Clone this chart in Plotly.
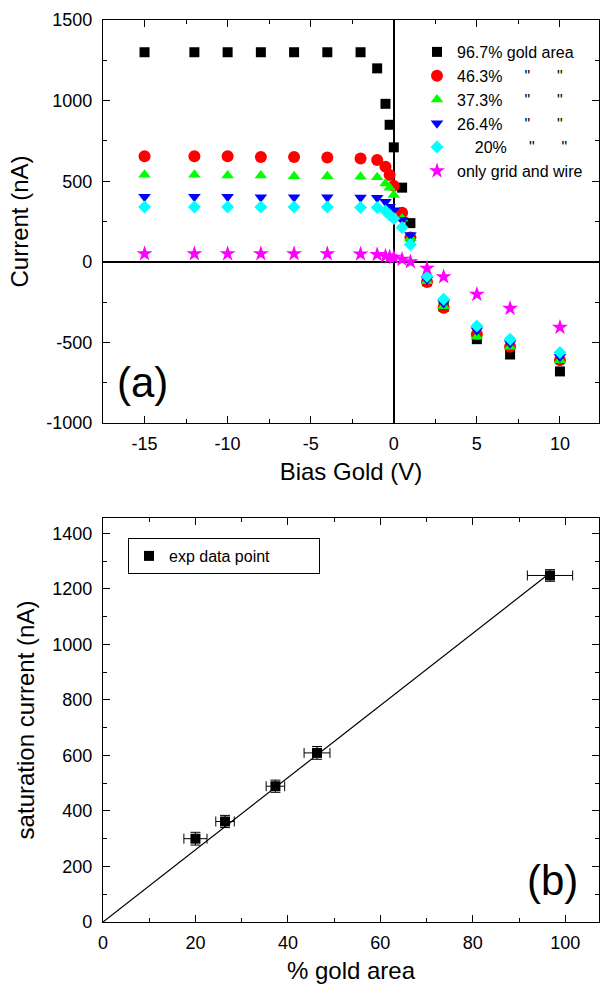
import plotly.graph_objects as go

# ---------------- data: panel (a) ----------------
bias = [-15, -12, -10, -8, -6, -4, -2, -1, -0.5, -0.25, 0, 0.5, 1, 2, 3, 5, 7, 10]
cur_967 = [1300, 1300, 1300, 1300, 1300, 1300, 1300, 1200, 980, 850, 710, 460, 240, -120, -280, -480, -575, -680]
cur_463 = [655, 655, 655, 650, 650, 647, 641, 631, 589, 538, 471, 304, 151, -125, -285, -450, -527, -610]
cur_373 = [540, 540, 535, 535, 530, 530, 527, 524, 486, 460, 414, 269, 147, -120, -275, -465, -527, -610]
cur_264 = [403, 403, 403, 401, 401, 400, 399, 397, 372, 341, 320, 259, 166, -110, -256, -424, -505, -589]
cur_20 = [340, 340, 340, 340, 340, 340, 337, 337, 315, 290, 269, 213, 108, -90, -233, -399, -480, -562]
cur_grid = [50, 50, 50, 50, 50, 50, 48, 45, 35, 30, 27, 15, 0, -40, -93, -202, -289, -407]

NB = "\u00a0"
names_a = [
    "96.7% gold area",
    "46.3%" + NB * 5 + '"' + NB * 6 + '"',
    "37.3%" + NB * 5 + '"' + NB * 6 + '"',
    "26.4%" + NB * 5 + '"' + NB * 6 + '"',
    NB * 4 + "20%" + NB * 5 + '"' + NB * 6 + '"',
    "only grid and wire",
]

xa_ticks = [-15, -10, -5, 0, 5, 10]
xa_labels = ["-15", "-10", "-5", "0", "5", "10"]
ya_ticks = [-1000, -500, 0, 500, 1000, 1500]
ya_labels = ["-1000", "-500", "0", "500", "1000", "1500"]

# ---------------- data: panel (b) ----------------
gold_pct = [20, 26.4, 37.3, 46.3, 96.7]
sat_cur = [300, 362, 489, 609, 1248]
gold_err = [2.5, 2.0, 2.0, 2.8, 4.9]
sat_err = [23, 22, 22, 23, 21]
fit_x = [0, 96.7]
fit_y = [0, 1257]
name_b = "exp data point" + NB * 10

FONT = "Liberation Sans, Arial, sans-serif"

fig = go.Figure()

series = [cur_967, cur_463, cur_373, cur_264, cur_20, cur_grid]
colors = ["#000000", "#FF0000", "#00FF00", "#0000FF", "#00FFFF", "#FF00FF"]
symbols = ["square", "circle", "triangle-up", "triangle-down", "diamond", "star"]
sizes = [10, 12, 11, 11, 10, 12]

for ys, c, s, sz, nm in zip(series, colors, symbols, sizes, names_a):
    fig.add_trace(go.Scatter(
        x=bias, y=ys, mode="markers", name=nm,
        marker=dict(color=c, symbol=s, size=sz, line=dict(width=0)),
        xaxis="x", yaxis="y", legend="legend",
    ))

fig.add_trace(go.Scatter(
    x=fit_x, y=fit_y, mode="lines", line=dict(color="black", width=1.2),
    showlegend=False, xaxis="x2", yaxis="y2",
))
fig.add_trace(go.Scatter(
    x=gold_pct, y=sat_cur, mode="markers", name=name_b,
    marker=dict(color="black", symbol="square", size=10),
    error_x=dict(type="data", array=gold_err, color="black", thickness=1, width=5),
    error_y=dict(type="data", array=sat_err, color="black", thickness=1, width=5),
    xaxis="x2", yaxis="y2", legend="legend2",
))

W, H = 600, 984
def px_x(p):
    return p / W
def px_y(p):
    return 1 - p / H

axis_common = dict(
    showline=True, linecolor="black", linewidth=1.2, mirror="ticks",
    ticks="inside", ticklen=7, tickwidth=1, tickcolor="black",
    showgrid=False, automargin=False,
    tickfont=dict(family=FONT, size=18, color="black"),
    title_font=dict(family=FONT, size=24, color="black"),
)

fig.update_layout(
    width=W, height=H,
    margin=dict(l=0, r=0, t=0, b=0),
    paper_bgcolor="white", plot_bgcolor="white",
    font=dict(family=FONT, color="black"),
    xaxis=dict(
        domain=[px_x(103), px_x(599)], anchor="y", range=[-17.5, 12.35],
        tickmode="array", tickvals=xa_ticks, ticktext=xa_labels,
        minor=dict(dtick=2.5, tick0=0, ticklen=4, ticks="inside", tickcolor="black"),
        zeroline=True, zerolinecolor="black", zerolinewidth=1.5,
        title=dict(text="Bias Gold (V)", standoff=10), ticklabelstandoff=4,
        **axis_common,
    ),
    yaxis=dict(
        domain=[px_y(423), px_y(20)], anchor="x", range=[-1000, 1500],
        tickmode="array", tickvals=ya_ticks, ticktext=ya_labels,
        minor=dict(dtick=250, tick0=0, ticklen=4, ticks="inside", tickcolor="black"),
        zeroline=True, zerolinecolor="black", zerolinewidth=1.5,
        title=dict(text="Current (nA)", standoff=10), ticklabelstandoff=6,
        **axis_common,
    ),
    xaxis2=dict(
        domain=[px_x(103), px_x(599)], anchor="y2", range=[0, 107.3],
        tick0=0, dtick=20, minor=dict(dtick=10, ticklen=4, ticks="inside", tickcolor="black"),
        zeroline=False,
        title=dict(text="% gold area", standoff=10), ticklabelstandoff=4,
        **axis_common,
    ),
    yaxis2=dict(
        domain=[px_y(922), px_y(518)], anchor="x2", range=[0, 1455],
        tick0=0, dtick=200, minor=dict(dtick=100, ticklen=4, ticks="inside", tickcolor="black"),
        zeroline=False,
        title=dict(text="saturation current (nA)", standoff=10), ticklabelstandoff=6,
        **axis_common,
    ),
    legend=dict(
        x=px_x(417), y=px_y(35), xanchor="left", yanchor="top",
        bgcolor="rgba(0,0,0,0)", borderwidth=0,
        font=dict(family=FONT, size=16, color="black"),
        tracegroupgap=0, itemsizing="trace",
    ),
    legend2=dict(
        x=px_x(128), y=px_y(538), xanchor="left", yanchor="top",
        bgcolor="white", bordercolor="black", borderwidth=1,
        font=dict(family=FONT, size=16, color="black"),
    ),
    annotations=[
        dict(text="(a)", x=-16.8, y=-746, xref="x", yref="y", showarrow=False,
             xanchor="left", yanchor="middle", font=dict(family=FONT, size=42, color="black")),
        dict(text="(b)", x=91.3, y=150, xref="x2", yref="y2", showarrow=False,
             xanchor="left", yanchor="middle", font=dict(family=FONT, size=42, color="black")),
    ],
)

fig.write_html("out.html", config={"displayModeBar": False},
               post_script="document.body.style.margin='0';")
